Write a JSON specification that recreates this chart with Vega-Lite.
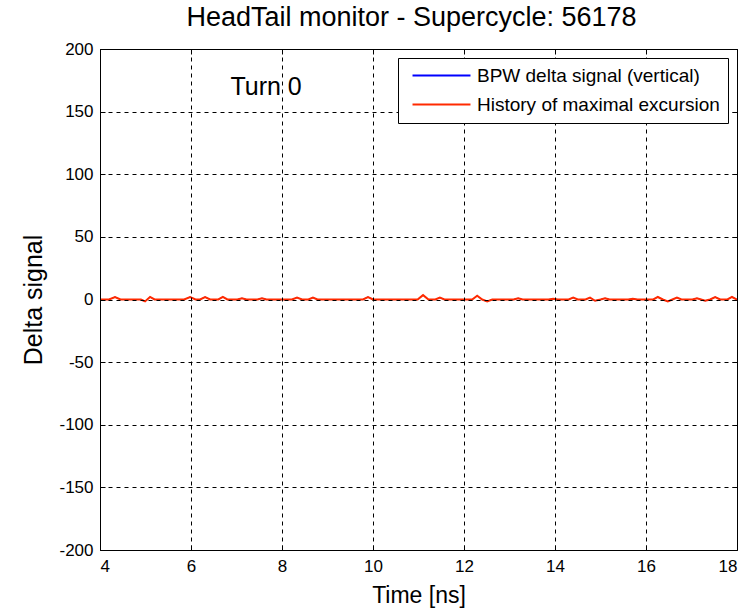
{
  "$schema": "https://vega.github.io/schema/vega-lite/v6.json",
  "width": 637,
  "height": 501,
  "autosize": {"type": "none"},
  "padding": {"left": 100, "top": 49, "right": 10, "bottom": 59},
  "background": "white",
  "title": {
    "text": "HeadTail monitor - Supercycle: 56178",
    "font": "Liberation Sans",
    "fontSize": 27,
    "fontWeight": "normal",
    "color": "black",
    "anchor": "middle",
    "dx": -7,
    "offset": 8
  },
  "config": {
    "view": {"stroke": "black", "strokeWidth": 1},
    "font": "Liberation Sans"
  },
  "datasets": {
    "trace": [
      {"t": 4.0, "bpw": 0, "hist": 0},
      {"t": 4.2, "bpw": 0, "hist": 0},
      {"t": 4.33, "bpw": 2, "hist": 2},
      {"t": 4.45, "bpw": 0, "hist": 0},
      {"t": 4.9, "bpw": 0, "hist": 0},
      {"t": 4.99, "bpw": -1.5, "hist": -1.5},
      {"t": 5.1, "bpw": 2, "hist": 2},
      {"t": 5.2, "bpw": 0, "hist": 0},
      {"t": 5.85, "bpw": 0, "hist": 0},
      {"t": 5.98, "bpw": 2, "hist": 2},
      {"t": 6.1, "bpw": 0, "hist": 0},
      {"t": 6.2, "bpw": 0, "hist": 0},
      {"t": 6.31, "bpw": 2, "hist": 2},
      {"t": 6.42, "bpw": 0, "hist": 0},
      {"t": 6.6, "bpw": 0, "hist": 0},
      {"t": 6.7, "bpw": 2, "hist": 2},
      {"t": 6.8, "bpw": 0, "hist": 0},
      {"t": 7.02, "bpw": 0, "hist": 0},
      {"t": 7.12, "bpw": 1, "hist": 1},
      {"t": 7.22, "bpw": 0, "hist": 0},
      {"t": 7.46, "bpw": 0, "hist": 0},
      {"t": 7.56, "bpw": 1, "hist": 1},
      {"t": 7.66, "bpw": 0, "hist": 0},
      {"t": 8.22, "bpw": 0, "hist": 0},
      {"t": 8.33, "bpw": 1.5, "hist": 1.5},
      {"t": 8.44, "bpw": 0, "hist": 0},
      {"t": 8.58, "bpw": 0, "hist": 0},
      {"t": 8.68, "bpw": 1.5, "hist": 1.5},
      {"t": 8.78, "bpw": 0, "hist": 0},
      {"t": 9.78, "bpw": 0, "hist": 0},
      {"t": 9.89, "bpw": 2, "hist": 2},
      {"t": 10.0, "bpw": 0, "hist": 0},
      {"t": 10.98, "bpw": 0, "hist": 0},
      {"t": 11.1, "bpw": 3.5, "hist": 3.5},
      {"t": 11.22, "bpw": 0, "hist": 0},
      {"t": 11.37, "bpw": 0, "hist": 0},
      {"t": 11.47, "bpw": 1.5, "hist": 1.5},
      {"t": 11.57, "bpw": 0, "hist": 0},
      {"t": 12.18, "bpw": 0, "hist": 0},
      {"t": 12.29, "bpw": 3, "hist": 3},
      {"t": 12.4, "bpw": 0, "hist": 0},
      {"t": 12.51, "bpw": -1.5, "hist": -1.5},
      {"t": 12.62, "bpw": 0, "hist": 0},
      {"t": 13.09, "bpw": 0, "hist": 0},
      {"t": 13.19, "bpw": 1, "hist": 1},
      {"t": 13.29, "bpw": 0, "hist": 0},
      {"t": 13.86, "bpw": 0, "hist": 0},
      {"t": 13.96, "bpw": 0.5, "hist": 0.5},
      {"t": 14.06, "bpw": 0, "hist": 0},
      {"t": 14.3, "bpw": 0, "hist": 0},
      {"t": 14.4, "bpw": 1.5, "hist": 1.5},
      {"t": 14.5, "bpw": 0, "hist": 0},
      {"t": 14.67, "bpw": 0, "hist": 0},
      {"t": 14.77, "bpw": 1.5, "hist": 1.5},
      {"t": 14.88, "bpw": -1, "hist": -1},
      {"t": 15.0, "bpw": 0, "hist": 0},
      {"t": 15.1, "bpw": 1, "hist": 1},
      {"t": 15.2, "bpw": 0, "hist": 0},
      {"t": 15.61, "bpw": 0, "hist": 0},
      {"t": 15.71, "bpw": 0.5, "hist": 0.5},
      {"t": 15.81, "bpw": 0, "hist": 0},
      {"t": 16.16, "bpw": 0, "hist": 0},
      {"t": 16.26, "bpw": 2, "hist": 2},
      {"t": 16.37, "bpw": 0, "hist": 0},
      {"t": 16.48, "bpw": -1.5, "hist": -1.5},
      {"t": 16.58, "bpw": 0, "hist": 0},
      {"t": 16.68, "bpw": 1.5, "hist": 1.5},
      {"t": 16.78, "bpw": 0, "hist": 0},
      {"t": 17.02, "bpw": 0, "hist": 0},
      {"t": 17.12, "bpw": 1, "hist": 1},
      {"t": 17.21, "bpw": 0, "hist": 0},
      {"t": 17.3, "bpw": -1, "hist": -1},
      {"t": 17.41, "bpw": 0, "hist": 0},
      {"t": 17.52, "bpw": 2, "hist": 2},
      {"t": 17.63, "bpw": 0, "hist": 0},
      {"t": 17.79, "bpw": 0, "hist": 0},
      {"t": 17.89, "bpw": 2, "hist": 2},
      {"t": 18.0, "bpw": 0, "hist": 0}
    ],
    "note": [{"label": "Turn 0", "t": 7.65, "v": 170}]
  },
  "layer": [
    {
      "data": {"name": "trace"},
      "mark": {"type": "line", "strokeWidth": 1, "clip": true},
      "encoding": {
        "x": {
          "field": "t",
          "type": "quantitative",
          "scale": {"domain": [4, 18], "nice": false, "zero": false},
          "axis": {
            "orient": "bottom",
            "zindex": 1,
            "values": [4, 6, 8, 10, 12, 14, 16, 18],
            "domain": false,
            "grid": true,
            "gridColor": "black",
            "gridOpacity": 1,
            "gridDash": [4, 4],
            "gridWidth": 1,
            "ticks": true,
            "tickSize": -5,
            "tickColor": "black",
            "labelFontSize": 17,
            "labelColor": "black",
            "labelPadding": 13,
            "title": "Time [ns]",
            "titleFontSize": 23,
            "titleFontWeight": "normal",
            "titleColor": "black",
            "titlePadding": 10
          }
        },
        "y": {
          "field": "bpw",
          "type": "quantitative",
          "scale": {"domain": [-200, 200], "nice": false},
          "axis": {
            "orient": "left",
            "zindex": 1,
            "values": [-200, -150, -100, -50, 0, 50, 100, 150, 200],
            "labelExpr": "toString(datum.value)",
            "domain": false,
            "grid": true,
            "gridColor": "black",
            "gridOpacity": 1,
            "gridDash": [4, 4],
            "gridWidth": 1,
            "ticks": true,
            "tickSize": -5,
            "tickColor": "black",
            "labelFontSize": 17,
            "labelColor": "black",
            "labelPadding": 12,
            "title": "Delta signal",
            "titleFontSize": 25,
            "titleFontWeight": "normal",
            "titleColor": "black",
            "titlePadding": 12
          }
        },
        "color": {
          "datum": "BPW delta signal (vertical)",
          "type": "nominal",
          "scale": {
            "domain": ["BPW delta signal (vertical)", "History of maximal excursion"],
            "range": ["#0000ff", "#ff2a00"]
          },
          "legend": {
            "title": null,
            "orient": "top-right",
            "offset": 9,
            "zindex": 2,
            "fillColor": "white",
            "strokeColor": "black",
            "padding": 8,
            "symbolType": "M-4,0H4",
            "symbolSize": 210,
            "symbolStrokeWidth": 2,
            "symbolOffset": 26,
            "labelOffset": 26,
            "labelFontSize": 19,
            "labelColor": "black",
            "labelLimit": 400,
            "rowPadding": 9
          }
        }
      }
    },
    {
      "data": {"name": "trace"},
      "mark": {"type": "line", "strokeWidth": 2, "clip": true},
      "encoding": {
        "x": {"field": "t", "type": "quantitative", "axis": null},
        "y": {"field": "hist", "type": "quantitative", "axis": null},
        "color": {"datum": "History of maximal excursion", "type": "nominal"}
      }
    },
    {
      "data": {"name": "note"},
      "mark": {"type": "text", "fontSize": 25, "color": "black", "align": "center", "baseline": "middle"},
      "encoding": {
        "text": {"field": "label"},
        "x": {
          "field": "t",
          "type": "quantitative",
          "axis": {
            "orient": "top",
            "values": [4, 6, 8, 10, 12, 14, 16, 18],
            "domain": false,
            "grid": false,
            "labels": false,
            "tickSize": -5,
            "tickColor": "black",
            "title": null
          }
        },
        "y": {
          "field": "v",
          "type": "quantitative",
          "axis": {
            "orient": "right",
            "values": [-200, -150, -100, -50, 0, 50, 100, 150, 200],
            "domain": false,
            "grid": false,
            "labels": false,
            "tickSize": -5,
            "tickColor": "black",
            "title": null
          }
        }
      }
    }
  ],
  "resolve": {"axis": {"x": "independent", "y": "independent"}}
}
